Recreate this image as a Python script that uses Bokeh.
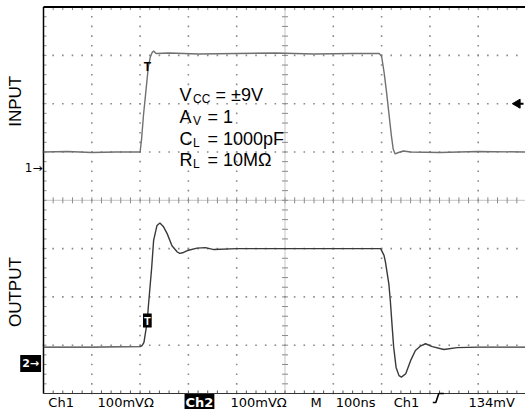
import math
import numpy as np
from bokeh.plotting import figure
from bokeh.models import Label
from bokeh.embed import file_html
from bokeh.resources import INLINE

# ---------------- data ----------------
time_in_ns = [0, 50, 100, 150, 200, 203, 207, 212, 217, 221, 225, 228, 233, 260, 320, 400,
              480, 560, 640, 695, 700, 705, 710, 715, 720, 724, 728, 735, 745, 760, 820, 900, 1000]
input_mV = [34, 35, 33, 34, 34, 60, 110, 160, 210, 230, 240, 243, 238, 239, 237, 238,
            239, 237, 238, 238, 232, 200, 160, 115, 70, 40, 30, 33, 36, 34, 33, 35, 34]

time_out_ns = [0, 100, 200, 204, 208, 215, 217, 224, 228, 235, 241, 248, 256, 266, 277, 282,
               290, 298, 318, 335, 353, 400, 500, 600, 698, 705, 708, 715, 718, 722, 725, 730,
               736, 741, 750, 760, 770, 780, 791, 805, 829, 856, 900, 1000]
output_mV = [34, 34, 35, 37, 44, 89, 117, 199, 255, 286, 291, 284, 269, 244, 231, 228,
             230, 234, 239, 240, 236, 238, 238, 238, 238, 224, 210, 165, 131, 75, 34, -8,
             -25, -28, -21, 6, 27, 36, 41, 35, 29, 33, 34, 34]

ch1_ground_div = 4.66
ch2_ground_div = 0.62
mv_per_div = 100
ns_per_div = 100
n_xdiv, n_ydiv, n_minor = 10, 8, 5
trigger_level_mV = 134
trigger_mark_ns = 215

param_main = ["V", "A", "C", "R"]
param_sub = ["CC", "V", "L", "L"]
param_rest = ["= \u00b19V", "= 1", "= 1000pF", "= 10M\u03a9"]

status_text = ["Ch1", "100mV\u03a9", "Ch2", "100mV\u03a9", "M", "100ns", "Ch1", "134mV"]
status_ns = [10, 112, 292, 387, 553, 605, 725, 880]
status_highlight = [False, False, True, False, False, False, False, False]

# ---------------- layout ----------------
W, H = 525, 409
PX_PER_NS = 0.483
PX_PER_DIV = 48.3
X0_PX = 43.0     # canvas x of t = 0
Y0_PX = 393.0    # canvas y of div = 0
x_start = -X0_PX / PX_PER_NS
x_end = (W - X0_PX) / PX_PER_NS
y_end = Y0_PX / PX_PER_DIV
y_start = (Y0_PX - H) / PX_PER_DIV


def px_to_div(py):
    return (Y0_PX - py) / PX_PER_DIV


def px_to_ns(px):
    return (px - X0_PX) / PX_PER_NS


p = figure(width=W, height=H, x_range=(x_start, x_end), y_range=(y_start, y_end),
           x_axis_type=None, y_axis_type=None, toolbar_location=None,
           output_backend="svg", min_border=0)
p.outline_line_color = None
p.grid.visible = False
p.background_fill_color = "white"
p.border_fill_color = "white"

x_full = n_xdiv * ns_per_div
minor_x = np.arange(0, x_full + 1e-9, ns_per_div / n_minor)
minor_y = np.arange(0, n_ydiv + 1e-9, 1.0 / n_minor)
cx, cy = x_full / 2, n_ydiv / 2
major_x = [i * ns_per_div for i in range(1, n_xdiv + 1) if i * ns_per_div != cx]
major_y = [j for j in range(1, n_ydiv) if j != cy]

gcol = "#8a8a8a"
dx, dy = [], []
for mx in major_x:
    dx += [mx] * len(minor_y); dy += list(minor_y)
for my in major_y:
    dx += list(minor_x); dy += [my] * len(minor_x)
p.scatter(dx, dy, marker="square", size=1.6, fill_color=gcol, line_color=None)

# centre lines
p.line([0, x_full], [cy, cy], line_color=gcol, line_dash="1 1", line_width=1)
p.line([cx, cx], [0, n_ydiv], line_color=gcol, line_dash="1 1", line_width=1)
p.scatter(minor_x, [cy] * len(minor_x), marker="dash", angle=math.pi / 2, size=6,
          line_color=gcol, line_width=1)
p.scatter([cx] * len(minor_y), minor_y, marker="dash", size=6, line_color=gcol, line_width=1)

# edge ruler ticks
tk = 3.0
p.segment(x0=[0] * len(minor_y), y0=minor_y, x1=[tk / PX_PER_NS] * len(minor_y), y1=minor_y,
          line_color=gcol, line_width=1)
p.segment(x0=minor_x, y0=[n_ydiv] * len(minor_x), x1=minor_x,
          y1=[n_ydiv - tk / PX_PER_DIV] * len(minor_x), line_color=gcol, line_width=1)
p.segment(x0=minor_x, y0=[0] * len(minor_x), x1=minor_x,
          y1=[tk / PX_PER_DIV] * len(minor_x), line_color="#555555", line_width=1)

# frame
p.line([0, 0], [0, n_ydiv], line_color="black", line_width=1.5)
p.line([0, x_full], [n_ydiv, n_ydiv], line_color="black", line_width=2)
p.line([0, x_full], [0, 0], line_color="#333333", line_width=1.2)

# traces
ch1_y = np.array(input_mV) / mv_per_div + ch1_ground_div
ch2_y = np.array(output_mV) / mv_per_div + ch2_ground_div
p.line(time_in_ns, ch1_y, line_color="#707070", line_width=1.4)
p.line(time_out_ns, ch2_y, line_color="#3a3a3a", line_width=1.4)

# trigger markers on traces
p.add_layout(Label(x=trigger_mark_ns, y=px_to_div(66), text="T", text_font="Liberation Sans",
                   text_font_style="bold", text_font_size="12px", text_align="center",
                   text_baseline="middle", text_color="black"))
ch2_T_y = float(np.interp(trigger_mark_ns, time_out_ns, ch2_y))
p.add_layout(Label(x=trigger_mark_ns, y=ch2_T_y, text="T", text_font="Liberation Sans",
                   text_font_style="bold", text_font_size="11px", text_align="center",
                   text_baseline="middle", text_color="white", background_fill_color="black",
                   padding=1))

# trigger level arrow on the right
trig_y = trigger_level_mV / mv_per_div + ch1_ground_div
arrow_x = px_to_ns(517)
p.scatter([arrow_x], [trig_y], marker="triangle", angle=math.pi / 2, size=9,
          fill_color="black", line_color="black")
p.segment(x0=[arrow_x], y0=[trig_y], x1=[px_to_ns(523)], y1=[trig_y], line_color="black",
          line_width=2)

# ground markers
p.add_layout(Label(x=-2, y=ch1_ground_div, text="1\u2192", text_font="DejaVu Sans",
                   text_font_size="12px", text_align="right", text_baseline="middle",
                   text_color="black"))
p.add_layout(Label(x=-5, y=ch2_ground_div, text="2\u2192", text_font="DejaVu Sans",
                   text_font_style="bold", text_font_size="11px", text_align="right",
                   text_baseline="middle", text_color="white", background_fill_color="black",
                   padding=2))

# channel names
p.add_layout(Label(x=px_to_ns(15), y=6.05, text="INPUT", angle=math.pi / 2,
                   text_font="Liberation Sans", text_font_size="17px", text_align="center",
                   text_baseline="middle", text_color="black"))
p.add_layout(Label(x=px_to_ns(15), y=2.1, text="OUTPUT", angle=math.pi / 2,
                   text_font="Liberation Sans", text_font_size="17px", text_align="center",
                   text_baseline="middle", text_color="black"))

# parameter block
blk_x = px_to_ns(179)
blk_y = [px_to_div(v) for v in (94.7, 116.0, 138.0, 159.7)]
for i in range(4):
    common = dict(x=blk_x, y=blk_y[i], text_font="Liberation Sans", text_color="black",
                  text_baseline="alphabetic")
    p.add_layout(Label(text=param_main[i], text_font_size="18px", **common))
    p.add_layout(Label(text=param_sub[i], text_font_size="12px", x_offset=13.5, y_offset=-4,
                       **common))
    p.add_layout(Label(text=param_rest[i], text_font_size="18px",
                       x_offset=36 if i == 0 else 28, **common))

# status line
st_y = px_to_div(402)
for t, xs, hl in zip(status_text, status_ns, status_highlight):
    kw = dict(x=xs, y=st_y, text=t, text_font="DejaVu Sans", text_font_size="13px",
              text_baseline="alphabetic")
    if hl:
        p.add_layout(Label(text_color="white", background_fill_color="black", padding=1,
                           text_font_style="bold", **kw))
    else:
        p.add_layout(Label(text_color="black", **kw))

# trigger slope symbol
sx = 806
sh = 9 / PX_PER_DIV
p.line([sx, sx + 3 / PX_PER_NS, sx + 6 / PX_PER_NS, sx + 11 / PX_PER_NS],
       [st_y, st_y, st_y + sh, st_y + sh], line_color="black", line_width=1.6)

open("out.html", "w").write(file_html(p, INLINE))
